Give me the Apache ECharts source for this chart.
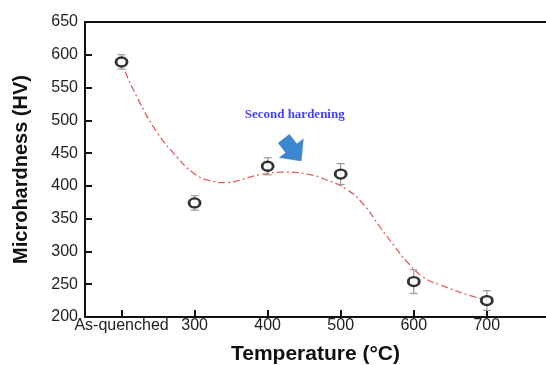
<!DOCTYPE html>
<html><head><meta charset="utf-8">
<script src="https://cdn.jsdelivr.net/npm/echarts@6/dist/echarts.min.js"></script>
<style>html,body{margin:0;padding:0;background:#fff}#c{width:546px;height:365px}</style>
</head><body><div id="c"></div>
<script>
var temps = [200, 300, 400, 500, 600, 700];
var tickLabels = ['As-quenched', '300', '400', '500', '600', '700'];
var hardness = [589, 374, 430, 418, 254, 225];
var errors = [11, 11, 13, 16, 18, 15];
var fitX = [205, 225, 249, 276, 298, 321, 345, 362, 390, 427, 454, 481, 509, 531, 554, 575, 591, 613, 636, 682, 695];
var fitY = [574, 527, 481, 444, 420, 408, 405, 409, 417, 421, 418, 409, 394, 372, 337, 306, 284, 261, 249, 231, 228];

var chart = echarts.init(document.getElementById('c'), null, {renderer: 'canvas'});
var pts = temps.map(function (t, i) { return [t, hardness[i]]; });
var errData = temps.map(function (t, i) { return [t, hardness[i] - errors[i], hardness[i] + errors[i]]; });
var fit = fitX.map(function (x, i) { return [x, fitY[i]]; });
var labelMap = {};
temps.forEach(function (t, i) { labelMap[t] = tickLabels[i]; });

chart.setOption({
  animation: false,
  backgroundColor: '#fff',
  grid: {left: 85, top: 22, right: 0, bottom: 48, containLabel: false, outerBoundsMode: 'none'},
  xAxis: [{
    type: 'value', min: 150, max: 781,
    name: 'Temperature (°C)', nameLocation: 'middle', nameGap: 27,
    nameTextStyle: {fontFamily: 'Liberation Sans', fontWeight: 'bold', fontSize: 21, color: '#111'},
    axisLine: {show: true, onZero: false, lineStyle: {color: '#111', width: 2}},
    axisTick: {show: true, inside: true, length: 7, customValues: temps, lineStyle: {color: '#111', width: 2}},
    axisLabel: {customValues: temps, margin: 1, fontFamily: 'Liberation Sans', fontSize: 16, color: '#222',
      formatter: function (v) { return labelMap[v] || ''; }},
    splitLine: {show: false}
  }, {
    type: 'value', min: 150, max: 781, position: 'top',
    axisLine: {show: true, lineStyle: {color: '#111', width: 2}},
    axisTick: {show: false}, axisLabel: {show: false}, splitLine: {show: false}
  }],
  yAxis: {
    type: 'value', min: 200, max: 650, interval: 50,
    name: 'Microhardness (HV)', nameLocation: 'middle', nameGap: 54,
    nameTextStyle: {fontFamily: 'Liberation Sans', fontWeight: 'bold', fontSize: 20, color: '#111'},
    axisLine: {show: true, lineStyle: {color: '#111', width: 2}},
    axisTick: {show: true, inside: true, length: 7, lineStyle: {color: '#111', width: 2}},
    axisLabel: {margin: 7, fontFamily: 'Liberation Sans', fontSize: 16, color: '#222'},
    splitLine: {show: false}
  },
  series: [{
    type: 'line', data: fit, smooth: 0.5, showSymbol: false, silent: true,
    lineStyle: {color: '#e06060', width: 1.3, type: [7, 3, 2, 3]},
    z: 1
  }, {
    type: 'custom', data: errData, z: 2,
    renderItem: function (params, api) {
      var x = api.value(0);
      var lo = api.coord([x, api.value(1)]);
      var hi = api.coord([x, api.value(2)]);
      var w = 4;
      var st = {stroke: '#999', lineWidth: 1.2};
      return {type: 'group', children: [
        {type: 'line', shape: {x1: lo[0], y1: lo[1], x2: hi[0], y2: hi[1]}, style: st},
        {type: 'line', shape: {x1: lo[0] - w, y1: lo[1], x2: lo[0] + w, y2: lo[1]}, style: st},
        {type: 'line', shape: {x1: hi[0] - w, y1: hi[1], x2: hi[0] + w, y2: hi[1]}, style: st}
      ]};
    }
  }, {
    type: 'scatter', data: pts, symbol: 'circle', symbolSize: [11, 9], z: 3,
    itemStyle: {color: '#fff', borderColor: '#000', borderWidth: 2.6},
    markPoint: {
      symbol: 'path://M8,0 L22,0 L22,13 L30,13 L15,30 L0,13 L8,13 Z',
      symbolSize: [30, 28], symbolRotate: 38, silent: true,
      itemStyle: {color: '#3b87d2', borderColor: '#2e72b5', borderWidth: 0.5},
      label: {show: false},
      data: [{coord: [434, 455]}]
    }
  }, {
    type: 'scatter', data: [[437, 508]], symbolSize: 0, silent: true, z: 4,
    label: {show: true, position: 'inside', formatter: 'Second hardening',
      fontFamily: 'Liberation Serif', fontWeight: 'bold', fontSize: 13, color: '#1010ff'}
  }]
});
</script></body></html>
